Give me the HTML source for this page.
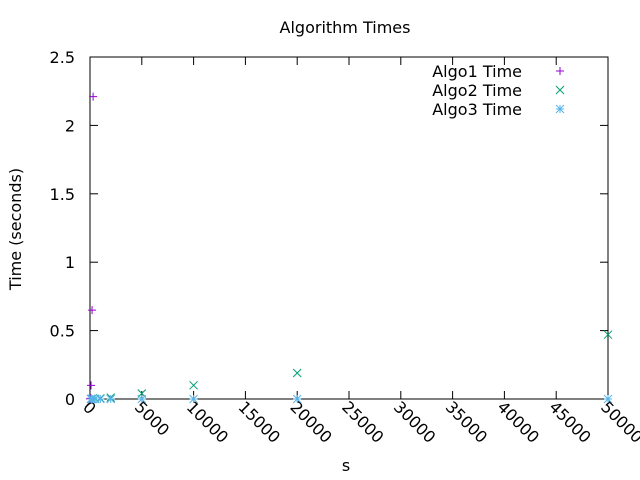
<!DOCTYPE html>
<html><head><meta charset="utf-8"><style>
html,body{margin:0;padding:0;background:#fff;}
svg{display:block;font-family:"DejaVu Sans","Liberation Sans",sans-serif;}
</style></head><body>
<svg id="chart" width="640" height="480">
<rect width="640" height="480" fill="#fff"/>
<text x="345" y="33" font-size="16" text-anchor="middle">Algorithm Times</text>
<text x="346" y="471" font-size="16" text-anchor="middle">s</text>
<text transform="translate(21,229) rotate(-90)" font-size="16" text-anchor="middle">Time (seconds)</text>
<g id="axes"></g>
<g id="marks"></g>
<g id="legend"></g>
</svg>
<script>
const xTicks = [0,5000,10000,15000,20000,25000,30000,35000,40000,45000,50000];
const yTicks = [0,0.5,1,1.5,2,2.5];
const yTickLabels = ["0","0.5","1","1.5","2","2.5"];
const algo1X = [10,50,100,200,300];
const algo1Y = [0.001,0.005,0.1,0.65,2.21];
const algo2X = [100,200,500,1000,2000,5000,10000,20000,50000];
const algo2Y = [0.001,0.001,0.002,0.005,0.01,0.04,0.1,0.19,0.47];
const algo3X = [100,200,500,1000,2000,5000,10000,20000,50000];
const algo3Y = [0,0,0,0,0,0,0,0,0];

const L=90,R=608,T=57,B=399;
const sx=v=>L+(v-0)/50000*(R-L);
const sy=v=>B-(v-0)/2.5*(B-T);
const NS="http://www.w3.org/2000/svg";
const axes=document.getElementById('axes'), marks=document.getElementById('marks'), legend=document.getElementById('legend');
function mk(tag,attrs,parent){const e=document.createElementNS(NS,tag);for(const k in attrs)e.setAttribute(k,attrs[k]);parent.appendChild(e);return e;}

const frame=mk('rect',{x:L,y:T,width:R-L,height:B-T,fill:'none',stroke:'#000','stroke-width':1},axes);



yTicks.forEach((v,i)=>{
  const y=sy(v);
  mk('line',{x1:L,x2:L+8,y1:y,y2:y,stroke:'#000'},axes);
  mk('line',{x1:R,x2:R-8,y1:y,y2:y,stroke:'#000'},axes);
  const t=mk('text',{x:L-15,y:y+6,'font-size':16,'text-anchor':'end'},axes);
  t.textContent=yTickLabels[i];
  
  
});
xTicks.forEach(v=>{
  const x=sx(v);
  mk('line',{x1:x,x2:x,y1:B,y2:B-8,stroke:'#000'},axes);
  mk('line',{x1:x,x2:x,y1:T,y2:T+8,stroke:'#000'},axes);
  const t=mk('text',{transform:`translate(${x-8},${B+9}) rotate(45)`,'font-size':16},axes);
  t.textContent=String(v);
  
  
});

const C1='#9400d3',C2='#009e73',C3='#56b4e9';
function plus(x,y,c,g){mk('path',{d:`M${x-4},${y}H${x+4}M${x},${y-4}V${y+4}`,stroke:c,fill:'none'},g);}
function cross(x,y,c,g){mk('path',{d:`M${x-4},${y-4}L${x+4},${y+4}M${x-4},${y+4}L${x+4},${y-4}`,stroke:c,fill:'none'},g);}
function star(x,y,c,g){plus(x,y,c,g);cross(x,y,c,g);}

algo1X.forEach((v,i)=>{const g=mk('g',{},marks);plus(sx(v),sy(algo1Y[i]),C1,g);});
algo2X.forEach((v,i)=>{const g=mk('g',{},marks);cross(sx(v),sy(algo2Y[i]),C2,g);});
algo3X.forEach((v,i)=>{const g=mk('g',{},marks);star(sx(v),sy(algo3Y[i]),C3,g);});

[['Algo1 Time',C1,plus],['Algo2 Time',C2,cross],['Algo3 Time',C3,star]].forEach((d,i)=>{
  const y=71+i*19;
  const g=mk('g',{},legend);
  
  
  const t=mk('text',{x:522,y:y+6,'font-size':16,'text-anchor':'end'},g);
  t.textContent=d[0];
  d[2](560,y,d[1],g);
});
</script>
</body></html>
